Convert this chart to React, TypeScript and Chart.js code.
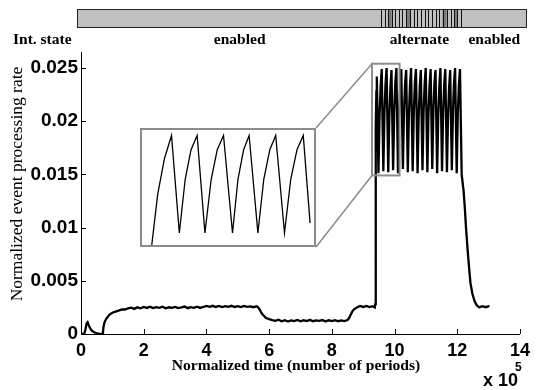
import React, { useEffect, useRef } from "react";
import { Chart, registerables } from "chart.js";
Chart.register(...registerables);

// ---------- data (time in units of 1e5 periods) ----------
const xTicks = [0, 2, 4, 6, 8, 10, 12, 14];
const yTicks = [0, 0.005, 0.01, 0.015, 0.02, 0.025];
const yTickLabels = ["0", "0.005", "0.01", "0.015", "0.02", "0.025"];

const startT = [0, 0.1, 0.14, 0.18, 0.21, 0.25, 0.3, 0.35, 0.4, 0.5, 0.6, 0.68, 0.7, 0.72, 0.75, 0.8, 0.85, 0.9, 1.0, 1.1, 1.2, 1.3, 1.4];
const startR = [0, 0, 0.0004, 0.001, 0.0011, 0.0008, 0.0005, 0.0003, 0.0002, 0.00005, 0, 0, 0.0002, 0.0007, 0.0011, 0.0014, 0.0016, 0.0018, 0.002, 0.0021, 0.0022, 0.0023, 0.0023];

const plateauT = [1.5, 1.6, 1.7, 1.8, 1.9, 2.0, 2.1, 2.2, 2.3, 2.4, 2.5, 2.6, 2.7, 2.8, 2.9, 3.0, 3.1, 3.2, 3.3, 3.4, 3.5, 3.6, 3.7, 3.8, 3.9, 4.0, 4.1, 4.2, 4.3, 4.4, 4.5, 4.6, 4.7, 4.8, 4.9, 5.0, 5.1, 5.2, 5.3, 5.4, 5.5, 5.6];
const plateauR = [0.0024, 0.00247, 0.00236, 0.00251, 0.00242, 0.00254, 0.00245, 0.00257, 0.00243, 0.00252, 0.00246, 0.00256, 0.00242, 0.00251, 0.00245, 0.00255, 0.00244, 0.0025, 0.00258, 0.00243, 0.00253, 0.00246, 0.00257, 0.00245, 0.00254, 0.00264, 0.00255, 0.00265, 0.00254, 0.00263, 0.00253, 0.00262, 0.00255, 0.00265, 0.00254, 0.00262, 0.00253, 0.00263, 0.00255, 0.0026, 0.00252, 0.0026];

const dropT = [5.65, 5.7, 5.75, 5.8, 5.9, 6.0];
const dropR = [0.0025, 0.0023, 0.002, 0.0018, 0.0015, 0.0014];

const lowT = [6.1, 6.2, 6.3, 6.4, 6.5, 6.6, 6.7, 6.8, 6.9, 7.0, 7.1, 7.2, 7.3, 7.4, 7.5, 7.6, 7.7, 7.8, 7.9, 8.0, 8.1, 8.2, 8.3, 8.4, 8.5];
const lowR = [0.00131, 0.00123, 0.00134, 0.0012, 0.0013, 0.00117, 0.00128, 0.00121, 0.00132, 0.00119, 0.00129, 0.00122, 0.00133, 0.0012, 0.00128, 0.00123, 0.00131, 0.00118, 0.00129, 0.00121, 0.0013, 0.0012, 0.00128, 0.00122, 0.00131];

const riseT = [8.55, 8.6, 8.65, 8.7, 8.8, 8.9, 9.0, 9.1, 9.2, 9.3, 9.37];
const riseR = [0.0015, 0.0018, 0.0021, 0.0023, 0.0025, 0.00263, 0.00254, 0.00264, 0.00253, 0.00261, 0.0025];

const oscT = [9.385, 9.4, 9.42, 9.434,
  9.486, 9.521, 9.556, 9.59,
  9.642, 9.677, 9.712, 9.746,
  9.798, 9.833, 9.868, 9.902,
  9.954, 9.989, 10.024, 10.058,
  10.11, 10.145, 10.18, 10.214,
  10.266, 10.301, 10.336, 10.37,
  10.422, 10.457, 10.492, 10.526,
  10.578, 10.613, 10.648, 10.682,
  10.734, 10.769, 10.804, 10.838,
  10.89, 10.925, 10.96, 10.994,
  11.046, 11.081, 11.116, 11.15,
  11.202, 11.237, 11.272, 11.306,
  11.358, 11.393, 11.428, 11.462,
  11.514, 11.549, 11.584, 11.618,
  11.67, 11.705, 11.74, 11.774,
  11.826, 11.861, 11.896, 11.93,
  11.982, 12.017, 12.052, 12.086];
const oscR = [0.0028, 0.0195, 0.0228, 0.0242,
  0.0151, 0.0205, 0.0233, 0.0249,
  0.0153, 0.0207, 0.0235, 0.025,
  0.0152, 0.0204, 0.0232, 0.0248,
  0.0154, 0.0208, 0.0236, 0.025,
  0.0151, 0.0206, 0.0234, 0.0249,
  0.0155, 0.0209, 0.0235, 0.0248,
  0.0152, 0.0205, 0.0233, 0.025,
  0.0153, 0.0207, 0.0236, 0.0249,
  0.0151, 0.0204, 0.0232, 0.0248,
  0.0154, 0.0208, 0.0235, 0.025,
  0.0152, 0.0206, 0.0234, 0.0249,
  0.0155, 0.0209, 0.0236, 0.0248,
  0.0151, 0.0205, 0.0233, 0.025,
  0.0153, 0.0207, 0.0235, 0.0249,
  0.0152, 0.0204, 0.0232, 0.0248,
  0.0154, 0.0208, 0.0236, 0.025,
  0.0151, 0.0206, 0.0234, 0.0249];

const tailT = [12.14, 12.2, 12.24, 12.28, 12.33, 12.38, 12.42, 12.48, 12.55, 12.62, 12.7, 12.8, 12.9, 13.0, 13.02];
const tailR = [0.015, 0.0135, 0.0119, 0.0099, 0.0079, 0.0061, 0.0048, 0.0038, 0.0031, 0.0027, 0.0025, 0.00262, 0.00252, 0.0026, 0.00255];

// inset (zoomed view of the start of the alternate phase)
const zoomX = [9.28, 10.16];
const zoomY = [0.0149, 0.0254];
const insetT = [9.33, 9.36, 9.395, 9.431,
  9.471, 9.501, 9.531, 9.562,
  9.602, 9.634, 9.665, 9.697,
  9.743, 9.771, 9.8, 9.828,
  9.873, 9.903, 9.934, 9.964,
  10.009, 10.041, 10.073, 10.105,
  10.14];
const insetR = [0.0149, 0.0195, 0.0228, 0.0249,
  0.016, 0.0209, 0.0236, 0.0249,
  0.016, 0.0209, 0.0236, 0.0249,
  0.016, 0.0209, 0.0236, 0.0249,
  0.016, 0.0209, 0.0236, 0.0249,
  0.016, 0.0209, 0.0236, 0.0249,
  0.0169];

// interrupt state bar
const barRange = [-0.13, 14.2];
const stripeEdges = [9.56, 9.69, 9.8, 9.91, 10.01, 10.14, 10.25, 10.37, 10.5, 10.62, 10.73, 10.84, 10.96, 11.08, 11.19, 11.31, 11.42, 11.53, 11.66, 11.79, 11.9, 12.0, 12.13];
const darkCells = [[9.8, 9.91], [10.37, 10.5], [11.53, 11.66], [11.9, 12.0]];
const stateLabels = ["enabled", "alternate", "enabled"];
const stateLabelPos = [5.06, 10.79, 13.18];

const INSET = { left: 140, top: 128, width: 176, height: 119 };

const SERIF = '"Liberation Serif", "Times New Roman", serif';
const SANS = 'Arial, "Liberation Sans", sans-serif';

function pairs(t: number[], r: number[]) {
  return t.map((x, i) => ({ x, y: r[i] }));
}

const overlayPlugin = {
  id: "overlay",
  afterDraw(chart: any) {
    const ctx = chart.ctx as CanvasRenderingContext2D;
    const xs = chart.scales.x;
    const ys = chart.scales.y;
    const area = chart.chartArea;
    ctx.save();
    // inward tick marks
    ctx.strokeStyle = "#000";
    ctx.lineWidth = 1;
    ctx.beginPath();
    yTicks.forEach((v) => {
      const y = Math.round(ys.getPixelForValue(v)) + 0.5;
      ctx.moveTo(area.left, y);
      ctx.lineTo(area.left + 5, y);
    });
    xTicks.forEach((v) => {
      const x = Math.round(xs.getPixelForValue(v)) + 0.5;
      ctx.moveTo(x, area.bottom);
      ctx.lineTo(x, area.bottom - 5);
    });
    ctx.stroke();

    // zoom rectangle and connectors
    const zx1 = xs.getPixelForValue(zoomX[0]);
    const zx2 = xs.getPixelForValue(zoomX[1]);
    const zy1 = ys.getPixelForValue(zoomY[1]);
    const zy2 = ys.getPixelForValue(zoomY[0]);
    ctx.strokeStyle = "#8c8c8c";
    ctx.lineWidth = 2;
    ctx.strokeRect(zx1, zy1, zx2 - zx1, zy2 - zy1);
    ctx.lineWidth = 1.5;
    ctx.beginPath();
    ctx.moveTo(zx1, zy1);
    ctx.lineTo(INSET.left + INSET.width, INSET.top);
    ctx.moveTo(zx1, zy2);
    ctx.lineTo(INSET.left + INSET.width, INSET.top + INSET.height);
    ctx.stroke();

    // interrupt state bar
    const bx1 = xs.getPixelForValue(barRange[0]);
    const bx2 = xs.getPixelForValue(barRange[1]);
    const by = 9, bh = 18;
    ctx.fillStyle = "#c0c0c0";
    ctx.fillRect(bx1, by, bx2 - bx1, bh);
    ctx.fillStyle = "#7a7a7a";
    darkCells.forEach(([a, b]) => {
      const p1 = xs.getPixelForValue(a);
      const p2 = xs.getPixelForValue(b);
      ctx.fillRect(p1, by, p2 - p1, bh);
    });
    ctx.strokeStyle = "#111";
    ctx.lineWidth = 1;
    ctx.beginPath();
    stripeEdges.forEach((v) => {
      const x = Math.round(xs.getPixelForValue(v)) + 0.5;
      ctx.moveTo(x, by);
      ctx.lineTo(x, by + bh);
    });
    ctx.stroke();
    ctx.strokeStyle = "#222";
    ctx.strokeRect(Math.round(bx1) + 0.5, by + 0.5, Math.round(bx2 - bx1), bh);

    // state labels
    ctx.fillStyle = "#000";
    ctx.textBaseline = "middle";
    ctx.font = `bold 15.5px ${SERIF}`;
    ctx.textAlign = "left";
    ctx.fillText("Int. state", 13, 40);
    ctx.textAlign = "center";
    stateLabels.forEach((s, i) => {
      ctx.fillText(s, xs.getPixelForValue(stateLabelPos[i]), 40);
    });

    // axis titles
    ctx.font = `bold 15.6px ${SERIF}`;
    ctx.fillText("Normalized time (number of periods)", 296, 366);
    ctx.save();
    ctx.translate(17, 184);
    ctx.rotate(-Math.PI / 2);
    ctx.font = `17.5px ${SERIF}`;
    ctx.fillText("Normalized event processing rate", 0, 0);
    ctx.restore();

    // exponent
    ctx.textAlign = "left";
    ctx.font = `bold 18px ${SANS}`;
    ctx.fillText("x 10", 483, 381);
    ctx.font = `bold 12px ${SANS}`;
    ctx.fillText("5", 515, 368);
    ctx.restore();
  },
};

export default function App() {
  const mainRef = useRef<HTMLCanvasElement>(null);
  const insetRef = useRef<HTMLCanvasElement>(null);

  useEffect(() => {
    const data = [
      ...pairs(startT, startR),
      ...pairs(plateauT, plateauR),
      ...pairs(dropT, dropR),
      ...pairs(lowT, lowR),
      ...pairs(riseT, riseR),
      ...pairs(oscT, oscR),
      ...pairs(tailT, tailR),
    ];
    const main = new Chart(mainRef.current!, {
      type: "line",
      data: {
        datasets: [
          {
            data,
            borderColor: "#000",
            borderWidth: 2.3,
            pointRadius: 0,
            tension: 0,
            fill: false,
          },
        ],
      },
      options: {
        animation: false,
        responsive: false,
        events: [],
        layout: { padding: { top: 52, right: 10, left: 0, bottom: 0 } },
        plugins: { legend: { display: false }, tooltip: { enabled: false } },
        scales: {
          x: {
            type: "linear",
            min: 0,
            max: 14,
            afterBuildTicks: (s: any) => {
              s.ticks = xTicks.map((v) => ({ value: v }));
            },
            afterFit: (s: any) => {
              s.height = 56;
            },
            grid: { drawOnChartArea: false, drawTicks: false },
            border: { display: true, color: "#000", width: 1 },
            ticks: {
              padding: 6,
              color: "#000",
              font: { family: SANS, size: 18, weight: "bold" },
              maxRotation: 0,
              callback: (v: any) => String(v),
            },
          },
          y: {
            type: "linear",
            min: 0,
            max: 0.0265,
            afterBuildTicks: (s: any) => {
              s.ticks = yTicks.map((v) => ({ value: v }));
            },
            afterFit: (s: any) => {
              s.width = 81;
            },
            grid: { drawOnChartArea: false, drawTicks: false },
            border: { display: true, color: "#000", width: 1 },
            ticks: {
              padding: 3,
              color: "#000",
              font: { family: SANS, size: 19, weight: "bold" },
              callback: (v: any, i: number) => yTickLabels[i],
            },
          },
        },
      },
      plugins: [overlayPlugin],
    } as any);

    const inset = new Chart(insetRef.current!, {
      type: "line",
      data: {
        datasets: [
          {
            data: pairs(insetT, insetR),
            borderColor: "#000",
            borderWidth: 1.3,
            pointRadius: 0,
            tension: 0,
            fill: false,
          },
        ],
      },
      options: {
        animation: false,
        responsive: false,
        events: [],
        layout: { padding: 0 },
        plugins: { legend: { display: false }, tooltip: { enabled: false } },
        scales: {
          x: { type: "linear", min: zoomX[0], max: zoomX[1], display: false },
          y: { type: "linear", min: zoomY[0], max: zoomY[1], display: false },
        },
      },
    } as any);

    return () => {
      main.destroy();
      inset.destroy();
    };
  }, []);

  return (
    <div style={{ position: "fixed", left: 0, top: 0, width: 536, height: 390, background: "#fff" }}>
      <canvas ref={mainRef} width={536} height={390} style={{ display: "block" }} />
      <div
        style={{
          position: "absolute",
          left: INSET.left,
          top: INSET.top,
          width: INSET.width,
          height: INSET.height,
          boxSizing: "border-box",
          border: "2px solid #8c8c8c",
          background: "#fff",
        }}
      >
        <canvas ref={insetRef} width={INSET.width - 4} height={INSET.height - 4} style={{ display: "block" }} />
      </div>
    </div>
  );
}
